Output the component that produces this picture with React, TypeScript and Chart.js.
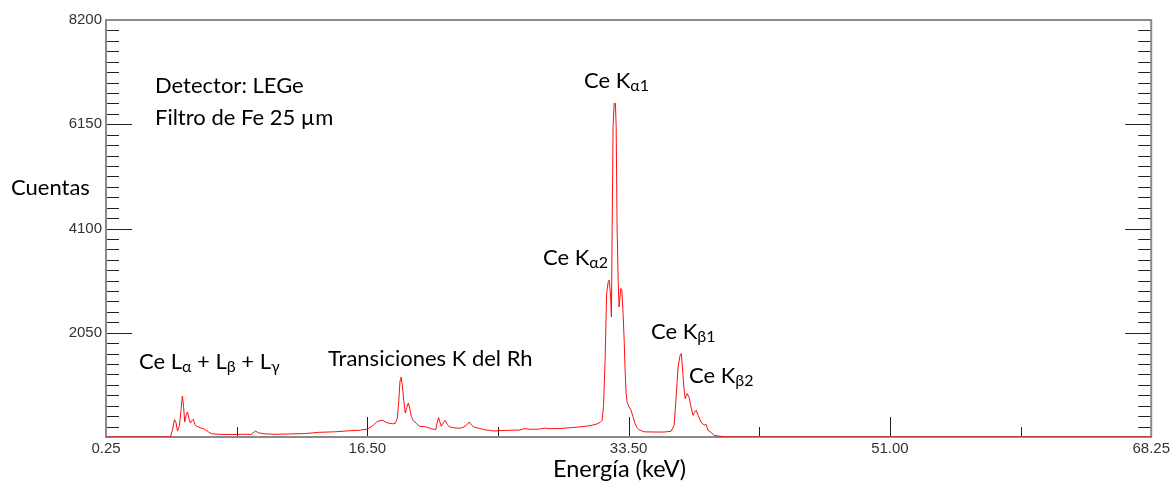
import React, { useEffect, useRef } from "react";
import { Chart, registerables } from "chart.js";
Chart.register(...registerables);

// Energy (keV) and counts
const energies = [
  0.25, 4.44, 4.57, 4.7, 4.8, 4.9, 5.03, 5.13, 5.22, 5.29, 5.37, 5.46, 5.55, 5.65, 5.74, 5.84, 5.94, 6.04, 6.13, 6.39,
  6.65, 6.91, 7.11, 7.63, 8.28, 9.25, 9.71, 9.97, 10.16, 10.56, 11.21, 12.18, 13.16, 14.13, 15.11, 16.08, 16.73, 17.25,
  17.64, 17.9, 18.23, 18.55, 18.88, 19.07, 19.2, 19.3, 19.38, 19.44, 19.53, 19.62, 19.72, 19.82, 19.92, 20.01, 20.11,
  20.24, 20.44, 20.63, 21.02, 21.41, 21.7, 21.8, 21.89, 21.96, 22.06, 22.19, 22.32, 22.45, 22.58, 22.91, 23.23, 23.49,
  23.69, 23.88, 24.01, 24.21, 24.53, 24.86, 25.18, 25.5, 25.83, 26.48, 27.13, 27.5, 27.78, 28.43, 28.8, 29.08, 29.73,
  30.38, 31.03, 31.68, 32.14, 32.4, 32.53, 32.62, 32.72, 32.82, 32.92, 32.98, 33.07, 33.13, 33.18, 33.24, 33.31, 33.39,
  33.44, 33.5, 33.57, 33.63, 33.74, 33.81, 33.89, 33.96, 34.02, 34.09, 34.15, 34.28, 34.41, 34.54, 34.67, 34.8, 34.93,
  35.26, 35.91, 36.56, 37.01, 37.21, 37.34, 37.47, 37.6, 37.68, 37.75, 37.84, 37.93, 38.06, 38.18, 38.31, 38.44, 38.54,
  38.64, 38.77, 38.96, 39.16, 39.29, 39.42, 39.61, 39.81, 40.13, 40.52, 66.8, 68.25,
];
const counts = [
  0, 0, 132, 342, 289, 118, 230, 525, 807, 624, 295, 427, 492, 368, 275, 329, 342, 240, 216, 181,
  157, 102, 63, 53, 49, 53, 53, 118, 83, 63, 53, 59, 67, 92, 102, 122, 132, 155,
  230, 309, 329, 279, 260, 270, 368, 722, 1116, 1181, 1017, 722, 472, 584, 669, 565, 407,
  319, 270, 211, 201, 165, 142, 289, 382, 309, 211, 279, 329, 250, 201, 181, 171, 191,
  230, 295, 240, 191, 171, 142, 132, 118, 126, 132, 136, 165, 152, 155, 175, 165, 165,
  181, 197, 220, 250, 289, 329, 624, 1509, 2822, 3050, 3084, 2822, 2361, 4132, 6100, 6561, 6561,
  6100, 4132, 3084, 2558, 2920, 2887, 2428, 1903, 1313, 854, 689, 590, 525, 394, 264, 181, 142,
  102, 98, 98, 112, 230, 787, 1377, 1608, 1641, 1377, 984, 756, 854, 787, 590, 427, 486,
  525, 427, 295, 230, 250, 132, 92, 33, 18, 0, 0, 0,
];

const xMin = 0.25;
const xMax = 68.25;
const yMin = 0;
const yMax = 8200;
const xTickValues = [0.25, 17.25, 34.25, 51.25, 68.25];
const xTickLabels = ["0.25", "16.50", "33.50", "51.00", "68.25"];
const xMinorValues = [8.75, 25.75, 42.75, 59.75];
const yTickValues = [0, 2050, 4100, 6150, 8200];
const yTickLabels = ["", "2050", "4100", "6150", "8200"];
const yMinorStep = 205;

const xTitle = "Energía (keV)";
const yTitle = "Cuentas";
const infoLines = ["Detector: LEGe", "Filtro de Fe 25 µm"];

type Part = [string, boolean];
const annotations: { parts: Part[]; x: number; y: number }[] = [
  { parts: [["Ce K", false], ["α1", true]], x: 584, y: 88 },
  { parts: [["Ce K", false], ["α2", true]], x: 543, y: 265 },
  { parts: [["Ce K", false], ["β1", true]], x: 651, y: 339 },
  { parts: [["Ce K", false], ["β2", true]], x: 689, y: 383 },
  {
    parts: [["Ce L", false], ["α", true], [" + L", false], ["β", true], [" + L", false], ["γ", true]],
    x: 139,
    y: 369,
  },
  { parts: [["Transiciones K del Rh", false]], x: 328, y: 366 },
];

const TEXT_FONT = "Lato, 'Noto Sans', sans-serif";

export default function App() {
  const ref = useRef<HTMLCanvasElement | null>(null);
  useEffect(() => {
    if (!ref.current) return;
    const framePlugin = {
      id: "frame",
      beforeDatasetsDraw(chart: any) {
        const { ctx, chartArea: a, scales } = chart;
        const xs = scales.x;
        const ys = scales.y;
        ctx.save();
        ctx.strokeStyle = "#222";
        ctx.lineWidth = 1;
        ctx.beginPath();
        for (const v of xTickValues) {
          const px = Math.round(xs.getPixelForValue(v)) + 0.5;
          if (v === xMin || v === xMax) continue;
          ctx.moveTo(px, a.bottom);
          ctx.lineTo(px, a.bottom - 20);
        }
        for (const v of xMinorValues) {
          const px = Math.round(xs.getPixelForValue(v)) + 0.5;
          ctx.moveTo(px, a.bottom);
          ctx.lineTo(px, a.bottom - 10);
        }
        for (let v = yMin + yMinorStep; v < yMax; v += yMinorStep) {
          const py = Math.round(ys.getPixelForValue(v)) + 0.5;
          const major = yTickValues.some((t) => Math.abs(t - v) < 1e-6);
          const len = major ? 26 : 13;
          ctx.moveTo(a.left, py);
          ctx.lineTo(a.left + len, py);
          ctx.moveTo(a.right, py);
          ctx.lineTo(a.right - len, py);
        }
        ctx.stroke();
        ctx.strokeStyle = "#8a8a8a";
        ctx.lineWidth = 2;
        ctx.strokeRect(a.left, a.top, a.right - a.left, a.bottom - a.top);
        ctx.restore();
      },
      afterDraw(chart: any) {
        const { ctx } = chart;
        ctx.save();
        ctx.fillStyle = "#000";
        ctx.textBaseline = "alphabetic";
        ctx.textAlign = "left";
        const drawParts = (parts: Part[], x: number, y: number) => {
          let cx = x;
          for (const [t, sub] of parts) {
            ctx.font = sub ? `16px ${TEXT_FONT}` : `22px ${TEXT_FONT}`;
            ctx.fillText(t, cx, sub ? y + 3 : y);
            cx += ctx.measureText(t).width;
          }
        };
        for (const an of annotations) drawParts(an.parts, an.x, an.y);
        ctx.font = `22px ${TEXT_FONT}`;
        ctx.fillText(infoLines[0], 155, 93);
        ctx.fillText(infoLines[1], 155, 125);
        ctx.fillText(yTitle, 11, 195);
        ctx.font = `23.5px ${TEXT_FONT}`;
        ctx.fillText(xTitle, 553, 477);
        ctx.restore();
      },
    };
    const chart = new Chart(ref.current, {
      type: "line",
      data: {
        datasets: [
          {
            data: energies.map((e, i) => ({ x: e, y: counts[i] })),
            borderColor: "rgba(255,0,0,0.95)",
            borderWidth: 1,
            pointRadius: 0,
            tension: 0,
            fill: false,
          },
        ],
      },
      options: {
        animation: false,
        responsive: false,
        layout: { padding: { top: 20, right: 20, left: 0, bottom: 0 } },
        plugins: { legend: { display: false }, tooltip: { enabled: false } },
        scales: {
          x: {
            type: "linear",
            min: xMin,
            max: xMax,
            grid: { display: false, drawTicks: false },
            border: { display: false },
            afterBuildTicks: (s: any) => {
              s.ticks = xTickValues.map((v) => ({ value: v }));
            },
            afterFit: (s: any) => {
              s.height = 44;
            },
            ticks: {
              autoSkip: false,
              maxRotation: 0,
              padding: 3,
              color: "#333",
              font: { family: "'Liberation Sans', Arial, sans-serif", size: 15 },
              callback: (_v: any, i: number) => xTickLabels[i],
            },
          },
          y: {
            type: "linear",
            min: yMin,
            max: yMax,
            grid: { display: false, drawTicks: false },
            border: { display: false },
            afterBuildTicks: (s: any) => {
              s.ticks = yTickValues.map((v) => ({ value: v }));
            },
            afterFit: (s: any) => {
              s.width = 106;
            },
            ticks: {
              autoSkip: false,
              padding: 4,
              color: "#333",
              font: { family: "'Liberation Sans', Arial, sans-serif", size: 15 },
              callback: (_v: any, i: number) => yTickLabels[i],
            },
          },
        },
      },
      plugins: [framePlugin],
    });
    return () => chart.destroy();
  }, []);
  return (
    <div style={{ position: "absolute", left: 0, top: 0, width: 1173, height: 481, background: "#fff" }}>
      <canvas ref={ref} width={1173} height={481} />
    </div>
  );
}
